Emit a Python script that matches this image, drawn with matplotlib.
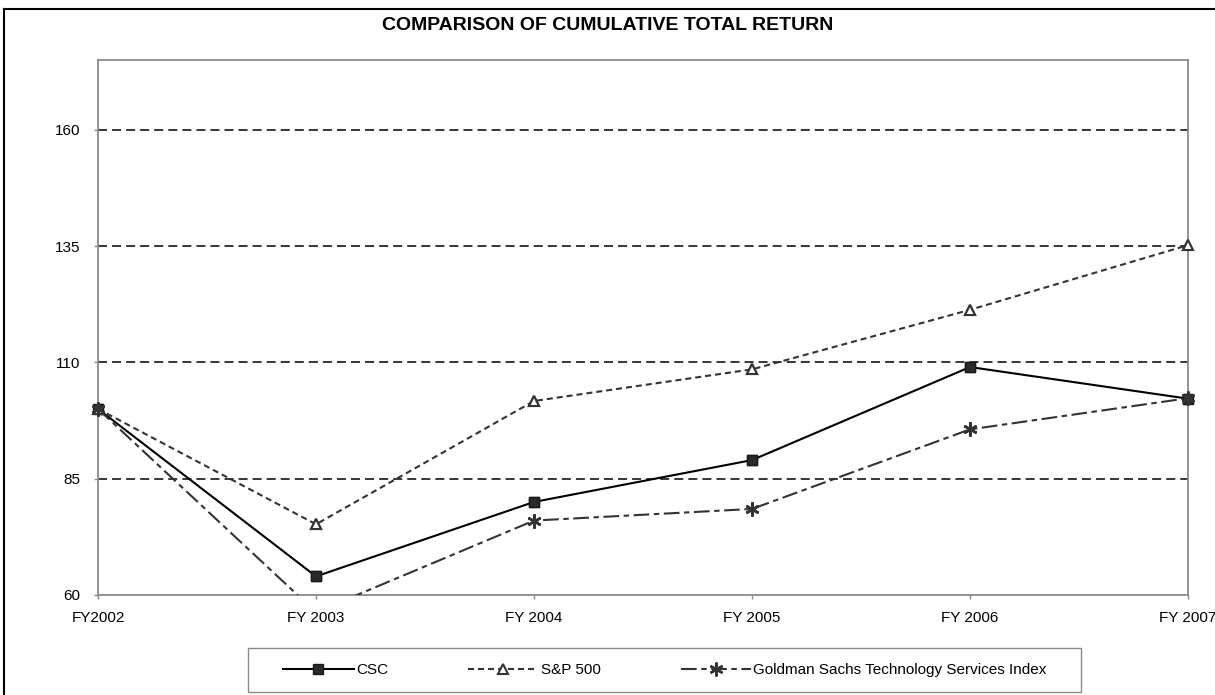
import numpy as np
import matplotlib
matplotlib.use("Agg")
import matplotlib.pyplot as plt
from matplotlib.lines import Line2D
from matplotlib.patches import Rectangle

plt.rcParams["font.family"] = ["Liberation Sans", "DejaVu Sans"]

## Values
years = ["FY2002", "FY 2003", "FY 2004", "FY 2005", "FY 2006", "FY 2007"]
csc = [100, 64.0, 80.0, 89.0, 109.0, 102.2]
sp500 = [100, 75.2, 101.7, 108.5, 121.3, 135.2]
gs_tech = [100, 56.3, 76.0, 78.5, 95.6, 102.3]
y_ticks = [60, 85, 110, 135, 160]
title = "COMPARISON OF CUMULATIVE TOTAL RETURN"

W, H = 1215, 695
fig = plt.figure(figsize=(W / 100, H / 100), dpi=100)
ax = fig.add_axes([98 / W, 1 - 595 / H, (1188 - 98) / W, (595 - 60) / H])

x = np.arange(len(years))

series = [
    dict(y=csc, label="CSC", color="black", ls="-",
         marker="s", ms=7, mfc="#2a2a2a", mec="#1a1a1a", mew=1),
    dict(y=sp500, label="S&P 500", color="#333333", ls=(0, (2.9, 1.9)),
         marker="^", ms=7.5, mfc="white", mec="#333333", mew=1.5),
    dict(y=gs_tech, label="Goldman Sachs Technology Services Index",
         color="#333333", ls=(0, (7.5, 2.2, 2.6, 2.2)),
         marker=(6, 2, 0), ms=10, mfc="#333333", mec="#333333", mew=1.7),
]

handles = []
for s in series:
    line, = ax.plot(x, s["y"], color=s["color"], linestyle=s["ls"], lw=1.5,
                    marker=s["marker"], ms=s["ms"], mfc=s["mfc"],
                    mec=s["mec"], mew=s["mew"], label=s["label"], zorder=3)
    handles.append(line)
    ## markers at the plot edges are not clipped, points below the axis are
    vis = np.ma.masked_less(np.array(s["y"], dtype=float), y_ticks[0])
    ax.plot(x, vis, linestyle="none", marker=s["marker"], ms=s["ms"],
            mfc=s["mfc"], mec=s["mec"], mew=s["mew"], clip_on=False, zorder=4)

## dashed horizontal gridlines
for t in y_ticks[1:]:
    ax.axhline(t, color="black", lw=1.1, linestyle=(0, (5.9, 3.3)), zorder=1)

ax.set_xlim(0, len(years) - 1)
ax.set_ylim(60, 175)
ax.set_xticks(x)
ax.set_xticklabels(years)
ax.set_yticks(y_ticks)

for sp in ax.spines.values():
    sp.set_color("#8a8a8a")
    sp.set_linewidth(1.3)

ax.tick_params(axis="both", direction="out", length=3, width=1,
               color="#8a8a8a", labelsize=11, labelcolor="black")
ax.tick_params(axis="y", pad=10)
ax.tick_params(axis="x", pad=8.5)

fig.text(0.5, 1 - 25 / H, title, ha="center", va="center",
         fontsize=14, fontweight="bold")

## outer chart border (top and left edge visible)
fig.add_artist(Line2D([4 / W, 1.0], [1 - 9 / H, 1 - 9 / H],
                      transform=fig.transFigure, color="black", lw=1.5))
fig.add_artist(Line2D([4 / W, 4 / W], [0.0, 1 - 9 / H],
                      transform=fig.transFigure, color="black", lw=1.5))

## legend box
fig.add_artist(Rectangle((248 / W, 1 - 692 / H), 833 / W, 44 / H,
                         transform=fig.transFigure, fill=False,
                         edgecolor="#8a8a8a", lw=1))
fig.legend(handles=handles, loc="center",
           bbox_to_anchor=(665 / W, 1 - 670 / H), ncol=3, frameon=False,
           fontsize=11, handlelength=4.6, handletextpad=0.15,
           columnspacing=5.25, numpoints=1)

fig.savefig("out.png", dpi=100)
